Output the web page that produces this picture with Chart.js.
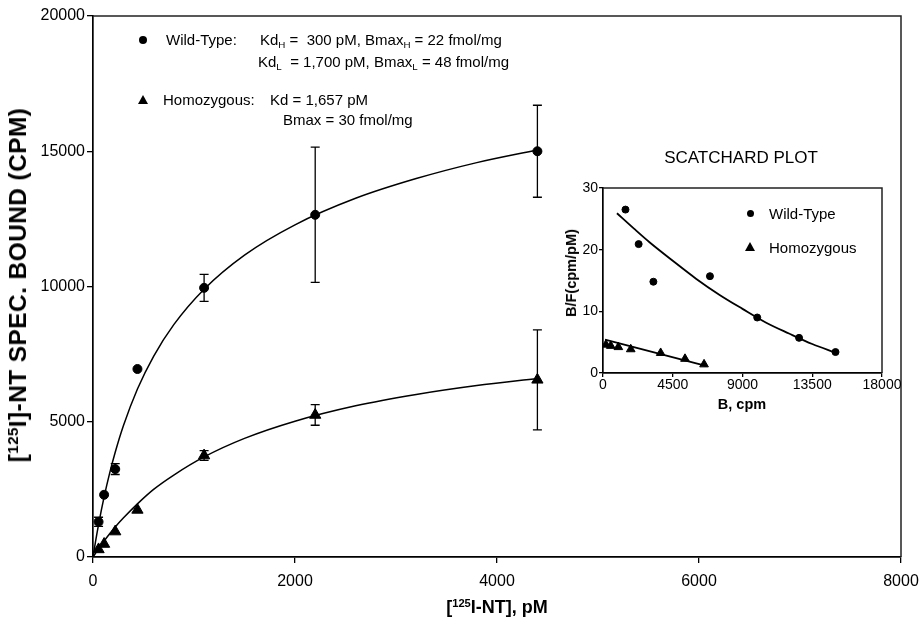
<!DOCTYPE html>
<html><head><meta charset="utf-8">
<script src="https://cdn.jsdelivr.net/npm/chart.js@4.4.0/dist/chart.umd.min.js"></script>
<style>
html,body{margin:0;padding:0;background:#fff;}
#wrap{position:relative;width:919px;height:621px;overflow:hidden;font-family:"Liberation Sans",Arial,Helvetica,sans-serif;color:#000;background:#fff;}
canvas{position:absolute;}
.t{position:absolute;white-space:pre;font-size:15px;line-height:16px;}
.t sub{font-size:0.65em;line-height:0;vertical-align:-0.3em;}
sup{font-size:0.62em;line-height:0;vertical-align:0.55em;}
.b{font-weight:bold;}
.rot{position:absolute;white-space:pre;transform:translate(-50%,-50%) rotate(-90deg);}
.dot{position:absolute;border-radius:50%;background:#000;}
.tri{position:absolute;width:0;height:0;border-left:5px solid transparent;border-right:5px solid transparent;border-bottom:9px solid #000;}
</style>
</head><body>
<div id="wrap">
  <canvas id="main" width="919" height="621" style="left:0;top:0"></canvas>
  <canvas id="inset" width="352" height="280" style="left:550px;top:140px"></canvas>

  <div class="rot b" style="left:18px;top:285px;font-size:24.5px;letter-spacing:0.4px;">[<sup>125</sup>I]-NT SPEC. BOUND (CPM)</div>
  <div class="t b" style="left:497px;top:607px;font-size:18px;transform:translate(-50%,-50%);">[<sup>125</sup>I-NT], pM</div>

  <div class="dot" style="left:139px;top:36px;width:8px;height:8px;"></div>
  <div class="t" style="left:166px;top:32px;">Wild-Type:</div>
  <div class="t" style="left:260px;top:32px;">Kd<sub>H</sub> =  300 pM, Bmax<sub>H</sub> = 22 fmol/mg</div>
  <div class="t" style="left:258px;top:54px;">Kd<sub>L</sub>  = 1,700 pM, Bmax<sub>L</sub> = 48 fmol/mg</div>
  <div class="tri" style="left:138px;top:95px;"></div>
  <div class="t" style="left:163px;top:92px;">Homozygous:</div>
  <div class="t" style="left:270px;top:92px;">Kd = 1,657 pM</div>
  <div class="t" style="left:283px;top:112px;">Bmax = 30 fmol/mg</div>

  <div class="t" style="left:741px;top:158px;font-size:17px;transform:translate(-50%,-50%);">SCATCHARD PLOT</div>
  <div class="rot b" style="left:571px;top:273px;font-size:14.5px;">B/F(cpm/pM)</div>
  <div class="t b" style="left:742px;top:404px;font-size:14.5px;transform:translate(-50%,-50%);">B, cpm</div>
  <div class="dot" style="left:747px;top:210px;width:7px;height:7px;"></div>
  <div class="t" style="left:769px;top:206px;font-size:15px;">Wild-Type</div>
  <div class="tri" style="left:745px;top:242px;"></div>
  <div class="t" style="left:769px;top:240px;font-size:15px;">Homozygous</div>
</div>
<script>
// ---------- Main saturation plot data ----------
const xTicksMain = [0, 2000, 4000, 6000, 8000];
const yTicksMain = [0, 5000, 10000, 15000, 20000];

const doseWT  = [55, 110, 220, 440, 1100, 2200, 4400];
const boundWT = [1300, 2300, 3250, 6950, 9950, 12650, 15000];
const errWT   = [170, 0, 200, 0, 500, 2500, 1700];

const doseHZ  = [55, 110, 220, 440, 1100, 2200, 4400];
const boundHZ = [280, 480, 940, 1740, 3750, 5250, 6550];
const errHZ   = [0, 0, 0, 0, 180, 380, 1850];

// fitted curves
const fitX    = [0, 25, 55, 110, 165, 220, 300, 440, 600, 800, 1100, 1500, 2000, 2600, 3200, 3800, 4400];
const fitWT   = [0, 570, 1200, 2220, 3100, 3870, 4840, 6210, 7420, 8590, 9900, 11160, 12280, 13260, 13990, 14580, 15050];
const fitHZ   = [0, 140, 305, 590, 860, 1110, 1440, 1965, 2500, 3030, 3700, 4385, 5020, 5590, 6010, 6340, 6600];

// ---------- Scatchard inset data ----------
const xTicksIn = [0, 4500, 9000, 13500, 18000];
const yTicksIn = [0, 10, 20, 30];

const scBWT  = [1450, 2300, 3250, 6900, 9950, 12650, 15000];
const scBFWT = [26.5, 20.9, 14.8, 15.7, 9.0, 5.7, 3.4];
const scBHZ  = [190, 500, 990, 1790, 3720, 5290, 6520];
const scBFHZ = [4.6, 4.4, 4.2, 3.85, 3.25, 2.3, 1.4];

const scFitX   = [900, 2000, 3000, 4500, 6000, 7500, 9000, 10500, 12000, 13500, 15000];
const scFitWT  = [25.9, 23.4, 21.2, 18.2, 15.3, 12.7, 10.4, 8.2, 6.4, 4.7, 3.3];
const scLineX  = [130, 6700];
const scLineHZ = [5.4, 1.1];

// ---------- helpers ----------
const pts = (xs, ys) => xs.map((x, i) => ({x: x, y: ys[i]}));
const FONT = '"Liberation Sans", Arial, Helvetica, sans-serif';

const errorBars = {
  id: 'errorBars',
  afterDatasetsDraw(chart) {
    const {ctx} = chart; const xs = chart.scales.x, ys = chart.scales.y;
    chart.data.datasets.forEach((ds) => {
      if (!ds.errors) return;
      ctx.save(); ctx.strokeStyle = '#000'; ctx.lineWidth = 1.3;
      ds.data.forEach((p, j) => {
        const e = ds.errors[j]; if (!e) return;
        const px = xs.getPixelForValue(p.x);
        const y1 = ys.getPixelForValue(p.y + e), y2 = ys.getPixelForValue(p.y - e);
        ctx.beginPath();
        ctx.moveTo(px, y1); ctx.lineTo(px, y2);
        ctx.moveTo(px - 4.5, y1); ctx.lineTo(px + 4.5, y1);
        ctx.moveTo(px - 4.5, y2); ctx.lineTo(px + 4.5, y2);
        ctx.stroke();
      });
      ctx.restore();
    });
  }
};
const frame = {
  id: 'frame',
  afterDraw(chart) {
    const {ctx, chartArea: a} = chart;
    ctx.save(); ctx.strokeStyle = '#222'; ctx.lineWidth = 1.5;
    ctx.beginPath(); ctx.moveTo(a.left, a.top); ctx.lineTo(a.right, a.top); ctx.lineTo(a.right, a.bottom); ctx.stroke();
    ctx.restore();
  }
};

function axis(min, max, ticksArr, fontSize, pad, tickLen, fitSize, horiz) {
  return {
    type: 'linear', min: min, max: max,
    afterBuildTicks: (s) => { s.ticks = ticksArr.map(v => ({value: v})); },
    ticks: { color: '#000', font: {family: FONT, size: fontSize}, padding: pad, callback: (v) => String(v), autoSkip: false, maxRotation: 0 },
    grid: { drawOnChartArea: false, drawTicks: true, tickLength: tickLen, color: '#000', lineWidth: 1.3 },
    border: { display: true, color: '#000', width: 1.7 },
    afterFit: (s) => {
      if (horiz) { s.height = fitSize; s.paddingLeft = 0; s.paddingRight = 0; }
      else { s.width = fitSize; s.paddingTop = 0; s.paddingBottom = 0; }
    }
  };
}

Chart.defaults.font.family = FONT;

new Chart(document.getElementById('main'), {
  type: 'scatter',
  data: { datasets: [
    { label: 'Wild-Type', data: pts(doseWT, boundWT), errors: errWT, pointStyle: 'circle', pointRadius: 4.5,
      backgroundColor: '#000', borderColor: '#000', showLine: false },
    { label: 'Homozygous', data: pts(doseHZ, boundHZ), errors: errHZ, pointStyle: 'triangle', pointRadius: 6.5,
      backgroundColor: '#000', borderColor: '#000', showLine: false },
    { label: 'Wild-Type fit', data: pts(fitX, fitWT), showLine: true, pointRadius: 0, borderColor: '#000',
      borderWidth: 1.5, cubicInterpolationMode: 'monotone', fill: false },
    { label: 'Homozygous fit', data: pts(fitX, fitHZ), showLine: true, pointRadius: 0, borderColor: '#000',
      borderWidth: 1.5, cubicInterpolationMode: 'monotone', fill: false }
  ]},
  options: {
    responsive: false, animation: false, devicePixelRatio: 1,
    layout: { padding: { top: 16, right: 18, left: 0, bottom: 0 } },
    plugins: { legend: { display: false }, tooltip: { enabled: false } },
    scales: {
      x: axis(0, 8000, xTicksMain, 16, 9, 6, 64, true),
      y: axis(0, 20000, yTicksMain, 16, 2, 6, 93, false)
    }
  },
  plugins: [errorBars, frame]
});

new Chart(document.getElementById('inset'), {
  type: 'scatter',
  data: { datasets: [
    { label: 'Wild-Type', data: pts(scBWT, scBFWT), pointStyle: 'circle', pointRadius: 3.5,
      backgroundColor: '#000', borderColor: '#000', showLine: false },
    { label: 'Homozygous', data: pts(scBHZ, scBFHZ), pointStyle: 'triangle', pointRadius: 5,
      backgroundColor: '#000', borderColor: '#000', showLine: false },
    { label: 'Wild-Type fit', data: pts(scFitX, scFitWT), showLine: true, pointRadius: 0, borderColor: '#000',
      borderWidth: 1.8, cubicInterpolationMode: 'monotone', fill: false },
    { label: 'Homozygous fit', data: pts(scLineX, scLineHZ), showLine: true, pointRadius: 0, borderColor: '#000',
      borderWidth: 1.8, fill: false }
  ]},
  options: {
    responsive: false, animation: false, devicePixelRatio: 1,
    layout: { padding: { top: 48, right: 20, left: 0, bottom: 0 } },
    plugins: { legend: { display: false }, tooltip: { enabled: false } },
    scales: {
      x: axis(0, 18000, xTicksIn, 14, 0, 4, 47, true),
      y: axis(0, 30, yTicksIn, 14, 1, 4, 53, false)
    }
  },
  plugins: [frame]
});
</script>
</body></html>
